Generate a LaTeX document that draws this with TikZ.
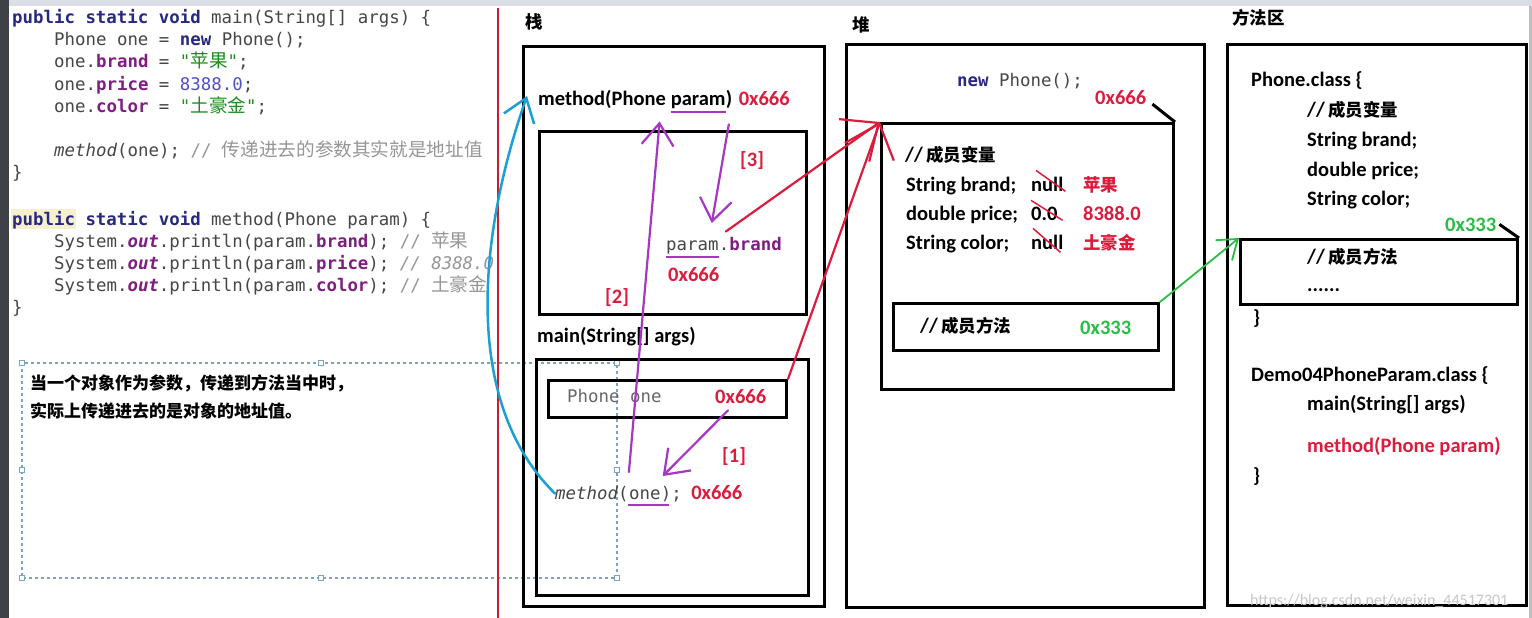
\documentclass[tikz,border=0pt]{standalone}
\usepackage{fontspec}
\setmainfont{Carlito}
\setmonofont{DejaVu Sans Mono}
\newfontfamily\cjk{Noto Sans CJK SC}[Scale=0.85]
\newfontfamily\cjkc{Noto Sans CJK SC}[Scale=1.07]
\usepackage{tikz}
\usetikzlibrary{arrows.meta,positioning}
\usepackage{xcolor}

\definecolor{addrred}{RGB}{220,28,60}
\definecolor{argpurple}{RGB}{165,55,195}
\definecolor{callblue}{RGB}{28,160,212}
\definecolor{mgreen}{RGB}{40,190,70}
\definecolor{kwnavy}{RGB}{40,40,130}
\definecolor{fldpurple}{RGB}{127,30,130}
\definecolor{strgreen}{RGB}{30,140,30}
\definecolor{numblue}{RGB}{80,80,200}
\definecolor{cmtgray}{RGB}{150,150,150}
\definecolor{codegray}{RGB}{70,70,70}
\definecolor{selblue}{RGB}{120,165,195}
\definecolor{splitred}{RGB}{200,30,50}
\definecolor{topgray}{RGB}{218,222,230}
\definecolor{sidegray}{RGB}{62,66,70}
\definecolor{hlyellow}{RGB}{246,240,205}

\newcommand{\zh}[1]{{\cjk #1}}
\newcommand{\zhc}[1]{{\cjkc #1}}
\newcommand{\kw}[1]{{\color{kwnavy}\bfseries #1}}
\newcommand{\fld}[1]{{\color{fldpurple}\bfseries #1}}
\newcommand{\jstr}[1]{{\color{strgreen}#1}}
\newcommand{\jnum}[1]{{\color{numblue}#1}}
\newcommand{\cmt}[1]{{\color{cmtgray}#1}}

\begin{document}
\begin{tikzpicture}[x=1pt,y=-1pt,
  box/.style={draw, line width=3pt, inner sep=0pt, anchor=north west},
  lbl/.style={anchor=base west, inner sep=0pt, font=\fontsize{20.5}{24}\selectfont\bfseries},
  code/.style={anchor=base west, inner sep=0pt, text=codegray, font=\fontsize{17.4}{22}\selectfont\ttfamily},
  addr/.style={lbl, text=addrred},
  hand/.style={line width=2.2pt, line cap=round, -{Straight Barb[length=22pt,width=32pt]}},
  handle/.style={draw=selblue, fill=white, line width=0.8pt},
]
\useasboundingbox (0,0) rectangle (1532,618);
\fill[white] (0,0) rectangle (1532,618);
\fill[topgray] (0,0) rectangle (1532,6);
\fill[sidegray] (0,0) rectangle (9,618);
\fill[black!25] (1529,6) rectangle (1532,618);

% Source code on the left
\fill[hlyellow] (11,209) rectangle (76,229);
\begin{scope}
\clip (9,6) rectangle (496,618);
\node[code] (c1) at (12,24) {\kw{public static void} main(String[] args) \{};
\node[code] (c2) at (54,46) {Phone one = \kw{new} Phone();};
\node[code] (c3) at (54,68) {one.\fld{brand} = \jstr{"\zhc{苹果}"};};
\node[code] (c4) at (54,90) {one.\fld{price} = \jnum{8388.0};};
\node[code] (c5) at (54,112) {one.\fld{color} = \jstr{"\zhc{土豪金}"};};
\node[code] (c6) at (54,156) {\textit{method}(one); \cmt{// \zhc{传递进去的参数其实就是地址值}}};
\node[code] (c7) at (12,178) {\}};
\node[code] (c8) at (12,225) {\kw{public static void} method(Phone param) \{};
\node[code] (c9) at (54,247) {System.\fld{\itshape out}.println(param.\fld{brand}); \cmt{// \zhc{苹果}}};
\node[code] (c10) at (54,269) {System.\fld{\itshape out}.println(param.\fld{price}); \cmt{\itshape // 8388.0}};
\node[code] (c11) at (54,291) {System.\fld{\itshape out}.println(param.\fld{color}); \cmt{// \zhc{土豪金}}};
\node[code] (c12) at (12,313) {\}};
\end{scope}

% Selection frame with the note
\draw[selblue, line width=1.2pt, dash pattern=on 3pt off 3pt] (22,363) rectangle (617,578);
\draw[handle] (22,363) ++(-2.5,-2.5) rectangle ++(5,5);
\draw[handle] (321,363) ++(-2.5,-2.5) rectangle ++(5,5);
\draw[handle] (617,363) ++(-2.5,-2.5) rectangle ++(5,5);
\draw[handle] (22,470) ++(-2.5,-2.5) rectangle ++(5,5);
\draw[handle] (617,470) ++(-2.5,-2.5) rectangle ++(5,5);
\draw[handle] (22,578) ++(-2.5,-2.5) rectangle ++(5,5);
\draw[handle] (321,578) ++(-2.5,-2.5) rectangle ++(5,5);
\draw[handle] (617,578) ++(-2.5,-2.5) rectangle ++(5,5);
\node[lbl, font=\fontsize{20}{24}\selectfont\bfseries] (note1) at (30,389) {\zh{当一个对象作为参数，传递到方法当中时，}};
\node[lbl, font=\fontsize{20}{24}\selectfont\bfseries] (note2) at (30,417) {\zh{实际上传递进去的是对象的地址值。}};

\draw[splitred, line width=2.5pt] (498,8) -- (498,618);

% Stack
\node[lbl] (tstack) at (525,29) {\zh{栈}};
\node[box, minimum width=301pt, minimum height=560pt] (stack) at (522,45) {};
\node[lbl] (mh1) at (538,106) {method(Phone};
\node[lbl] (hparam) at ([xshift=4.6pt]mh1.base east) {param};
\node[lbl] (mh3) at (hparam.base east) {)};
\node[addr] (mhaddr) at ([xshift=6pt]mh3.base east) {0x666};
\node[box, minimum width=267pt, minimum height=183pt] (mframe) at (538,130) {};
\node[addr] (step3) at (740,166) {[3]};
\node[code] (bparam) at (666,250) {param};
\node[code] (bb) at (bparam.base east) {.\fld{brand}};
\node[addr] (baddr) at (668,281) {0x666};
\node[addr] (step2) at (605,303) {[2]};
\node[lbl] (mainh) at (537,342) {main(String[] args)};
\node[box, minimum width=272pt, minimum height=236pt] (mainframe) at (535,358) {};
\node[box, minimum width=238pt, minimum height=37pt] (onebox) at (547,379) {};
\node[code, text=black!60] (pone) at (567,402) {Phone one};
\node[addr] (p1addr) at (715,403) {0x666};
\node[addr] (step1) at (722,462) {[1]};
\node[code] (mc1) at (555,499) {\textit{method}(};
\node[code] (one) at (mc1.base east) {one};
\node[code] (mc3) at (one.base east) {);};
\node[addr] (mcaddr) at ([xshift=9pt]mc3.base east) {0x666};

% Heap
\node[lbl] (theap) at (852,32) {\zh{堆}};
\node[box, minimum width=358pt, minimum height=563pt] (heap) at (845,43) {};
\node[code] (newp) at (957,87) {\kw{new} Phone();};
\node[addr] (haddr) at (1095,104) {0x666};
\node[box, minimum width=292pt, minimum height=266pt] (obj) at (880,122) {};
\node[lbl] (hv) at (905,161) {//\,\zh{成员变量}};
\node[lbl] (hb) at (906,191) {String brand;};
\node[lbl] (hp) at (906,220) {double price;};
\node[lbl] (hc) at (906,249) {String color;};
\node[lbl] (nb) at (1031,191) {null};
\node[lbl] (np) at (1031,220) {0.0};
\node[lbl] (nc) at (1031,249) {null};
\node[addr] (vb) at (1083,191) {\zh{苹果}};
\node[addr] (vp) at (1083,220) {8388.0};
\node[addr] (vc) at (1083,249) {\zh{土豪金}};
\node[box, minimum width=265pt, minimum height=47pt] (mmeth) at (892,302) {};
\node[lbl] (hm) at (920,332) {//\,\zh{成员方法}};
\node[lbl, text=mgreen] (hmaddr) at (1080,334) {0x333};

% Method area
\node[lbl] (tarea) at (1232,25) {\zh{方法区}};
\node[box, minimum width=299pt, minimum height=561pt] (marea) at (1226,43) {};
\node[lbl] (pc) at (1251,87) {Phone.class \{};
\node[lbl] (pcv) at (1307,116) {//\,\zh{成员变量}};
\node[lbl] (pcb) at (1307,146) {String brand;};
\node[lbl] (pcp) at (1307,176) {double price;};
\node[lbl] (pcc) at (1307,205) {String color;};
\node[lbl, text=mgreen] (maddr) at (1445,231) {0x333};
\node[box, minimum width=277pt, minimum height=65pt] (mbox) at (1239,238) {};
\node[lbl] (pcm) at (1307,263) {//\,\zh{成员方法}};
\node[lbl] (pcd) at (1307,291) {......};
\node[lbl] (pce) at (1253,324) {\}};
\node[lbl] (dc) at (1251,381) {Demo04PhoneParam.class \{};
\node[lbl] (dmain) at (1307,410) {main(String[] args)};
\node[addr] (dmeth) at (1307,452) {method(Phone param)};
\node[lbl] (dce) at (1253,482) {\}};
\node[anchor=base west, inner sep=0pt, text=black!22, font=\fontsize{16}{18}\selectfont] (wm) at (1250,605) {https://blog.csdn.net/weixin\_44517301};

% Address pointers at box corners
\draw[line width=3pt] ([xshift=6pt,yshift=-7pt]haddr.east) -- (obj.north east);
\draw[line width=3pt] ([xshift=3pt]maddr.east) -- (mbox.north east);

% Crossed out default values
\draw[addrred, line width=1.5pt] ([xshift=5pt,yshift=6pt]nb.north west) -- ([xshift=2pt]nb.south east);
\draw[addrred, line width=1.5pt] ([yshift=6pt]np.north west) -- ([xshift=5pt]np.south east);
\draw[addrred, line width=1.5pt] ([xshift=2pt,yshift=6pt]nc.north west) -- ([xshift=-3pt,yshift=-3pt]nc.south east);

% Underlines
\draw[argpurple, line width=2pt] ([yshift=-6pt]hparam.base west) -- ([yshift=-6pt]hparam.base east);
\draw[argpurple, line width=2pt] ([yshift=-7pt]bparam.base west) -- ([yshift=-7pt]bparam.base east);
\draw[argpurple, line width=2pt] ([xshift=-1pt,yshift=-6pt]one.base west) -- ([xshift=8pt,yshift=-6pt]one.base east);

% Arrows
\draw[hand, callblue, line width=2.5pt] (mc1.west) .. controls (460,400) and (480,230) .. ([xshift=-11pt,yshift=4pt]mh1.west);
\draw[hand, argpurple] ([xshift=13pt,yshift=-7pt]p1addr.south west) -- ([xshift=2pt,yshift=13pt]one.north east);
\draw[hand, argpurple] ([yshift=17pt]one.north west) -- ([xshift=-11pt,yshift=-12pt]hparam.south west);
\draw[hand, argpurple] ([xshift=3pt,yshift=-15pt]hparam.south east) -- ([xshift=-7pt,yshift=17pt]bparam.north east);
\draw[hand, addrred, -{Straight Barb[length=30pt,width=52pt]}] ([xshift=7pt,yshift=5pt]bb.north west) -- (obj.north west);
\draw[hand, addrred, -{Straight Barb[length=30pt,width=52pt]}] (onebox.north east) -- (obj.north west);
\draw[hand, mgreen, line width=1.8pt, -{Straight Barb[length=18pt,width=26pt]}] (mmeth.north east) -- (mbox.north west);
\end{tikzpicture}
\end{document}
